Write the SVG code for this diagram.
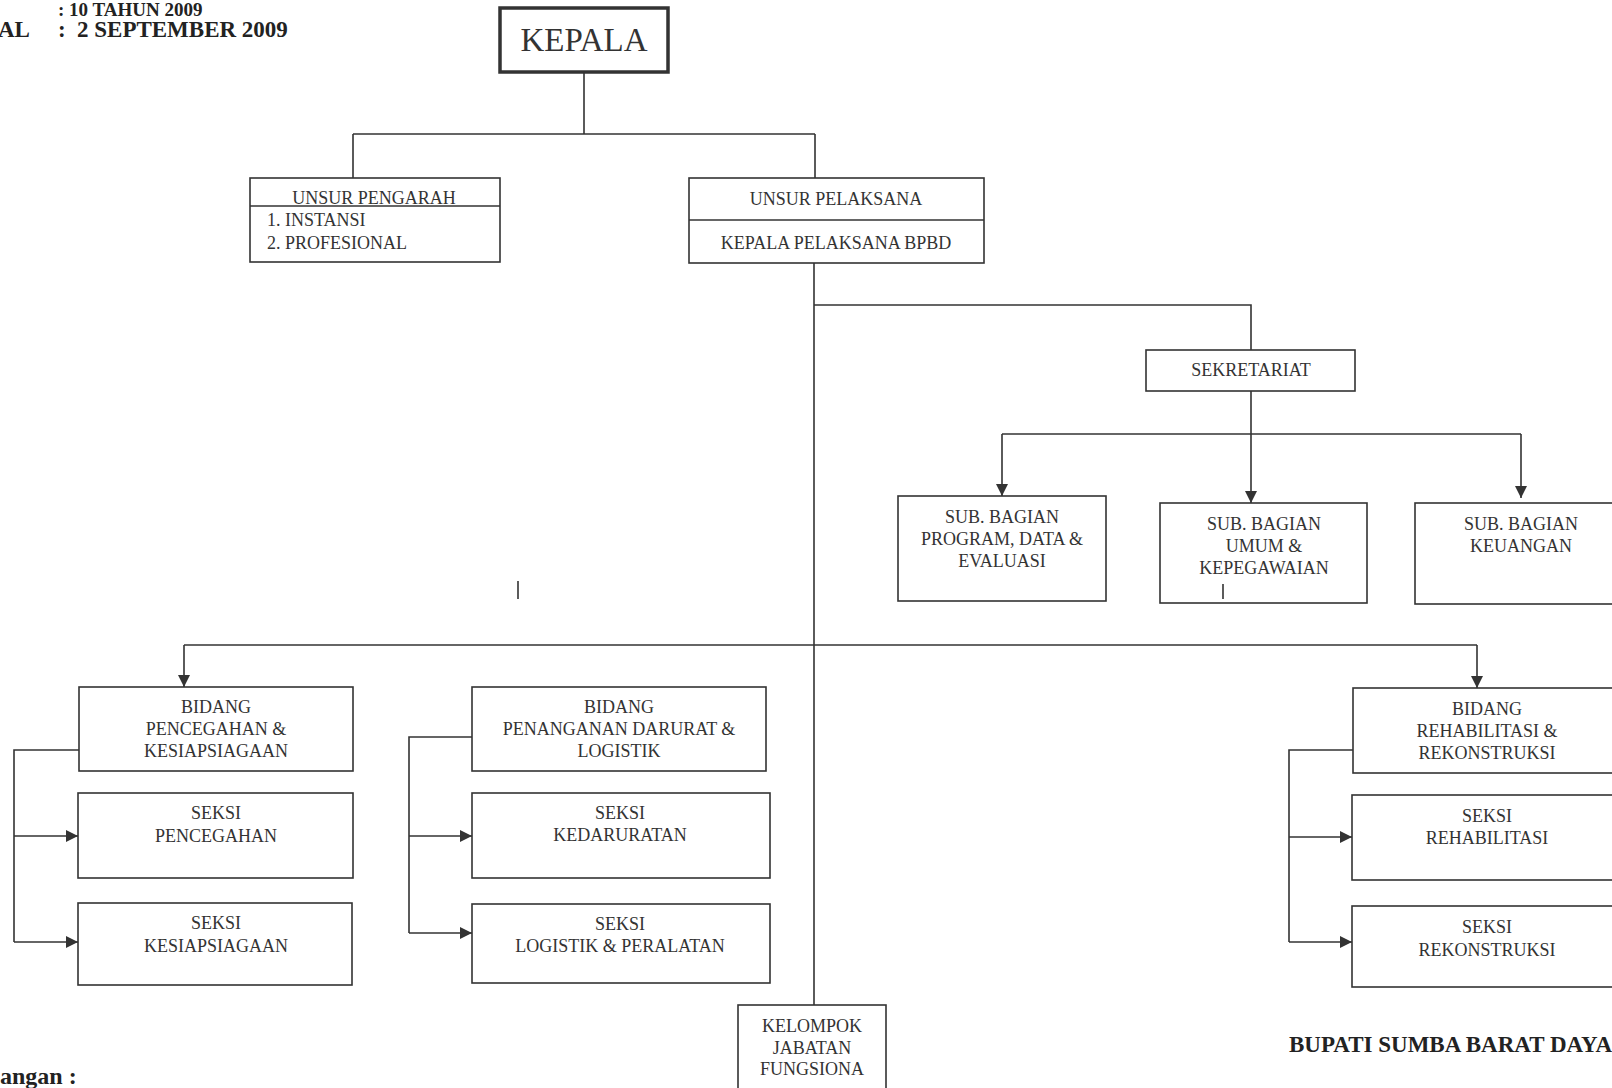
<svg xmlns="http://www.w3.org/2000/svg" width="1612" height="1088" viewBox="0 0 1612 1088">
<style>
.box{fill:#fff;stroke:#333;stroke-width:1.6}
.t{font-family:"Liberation Serif","Times New Roman",serif;font-size:18px;fill:#333;text-anchor:middle}
.tl{font-family:"Liberation Serif","Times New Roman",serif;font-size:18px;fill:#333}
.h{font-family:"Liberation Serif","Times New Roman",serif;font-size:23px;font-weight:bold;fill:#222}
.ln{fill:none;stroke:#333;stroke-width:1.6}
</style>
<defs>
<marker id="ar" markerUnits="userSpaceOnUse" markerWidth="12" markerHeight="12" viewBox="0 0 12 12" refX="12" refY="6" orient="auto">
<path d="M0,0 L12,6 L0,12 z" fill="#333"/>
</marker>
</defs>
<rect width="1612" height="1088" fill="#fff"/>

<g id="header">
<text class="h" x="58" y="16" style="font-size:19px">: 10 TAHUN 2009</text>
<text class="h" x="-2" y="37">AL</text>
<text class="h" x="58" y="37">:</text>
<text class="h" x="77" y="37">2 SEPTEMBER 2009</text>
<text class="h" x="0" y="1084" style="font-size:24px">angan :</text>
<text class="h" x="1289" y="1052" style="font-size:23px">BUPATI SUMBA BARAT DAYA</text>
</g>

<g id="connectors">
<path class="ln" d="M584,73 V134 M353,134 H815 M353,134 V178 M815,134 V178"/>
<path class="ln" d="M814,263 V1005"/>
<path class="ln" d="M814,305 H1251 V350"/>
<path class="ln" d="M1251,391 V503" marker-end="url(#ar)"/>
<path class="ln" d="M1002,434 H1521"/>
<path class="ln" d="M1002,434 V496" marker-end="url(#ar)"/>
<path class="ln" d="M1521,434 V498" marker-end="url(#ar)"/>
<path class="ln" d="M184,645 H1477"/>
<path class="ln" d="M184,645 V687" marker-end="url(#ar)"/>
<path class="ln" d="M1477,645 V688" marker-end="url(#ar)"/>
<path class="ln" d="M79,750 H14 V942"/>
<path class="ln" d="M14,836 H78" marker-end="url(#ar)"/>
<path class="ln" d="M14,942 H78" marker-end="url(#ar)"/>
<path class="ln" d="M472,737 H409 V933"/>
<path class="ln" d="M409,836 H472" marker-end="url(#ar)"/>
<path class="ln" d="M409,933 H472" marker-end="url(#ar)"/>
<path class="ln" d="M1353,750 H1289 V942"/>
<path class="ln" d="M1289,837 H1352" marker-end="url(#ar)"/>
<path class="ln" d="M1289,942 H1352" marker-end="url(#ar)"/>
<path class="ln" d="M518,581 V599"/>
</g>

<g id="kepala">
<rect x="500" y="8" width="168" height="64" fill="#fff" stroke="#333" stroke-width="3.5"/>
<text class="t" x="584" y="51" style="font-size:33px">KEPALA</text>
</g>

<g id="unsur-pengarah">
<rect class="box" x="250" y="178" width="250" height="84"/>
<line class="ln" x1="250" y1="206" x2="500" y2="206"/>
<text class="t" x="374" y="204">UNSUR PENGARAH</text>
<text class="tl" x="267" y="226">1. INSTANSI</text>
<text class="tl" x="267" y="249">2. PROFESIONAL</text>
</g>

<g id="unsur-pelaksana">
<rect class="box" x="689" y="178" width="295" height="85"/>
<line class="ln" x1="689" y1="220" x2="984" y2="220"/>
<text class="t" x="836" y="205">UNSUR PELAKSANA</text>
<text class="t" x="836" y="249">KEPALA PELAKSANA BPBD</text>
</g>

<g id="sekretariat">
<rect class="box" x="1146" y="350" width="209" height="41"/>
<text class="t" x="1251" y="376">SEKRETARIAT</text>
</g>

<g id="sub-program">
<rect class="box" x="898" y="496" width="208" height="105"/>
<text class="t" x="1002" y="523">SUB. BAGIAN</text>
<text class="t" x="1002" y="545">PROGRAM, DATA &amp;</text>
<text class="t" x="1002" y="567">EVALUASI</text>
</g>

<g id="sub-umum">
<rect class="box" x="1160" y="503" width="207" height="100"/>
<text class="t" x="1264" y="530">SUB. BAGIAN</text>
<text class="t" x="1264" y="552">UMUM &amp;</text>
<text class="t" x="1264" y="574">KEPEGAWAIAN</text>
<line class="ln" x1="1223" y1="584" x2="1223" y2="599"/>
</g>

<g id="sub-keuangan">
<rect class="box" x="1415" y="503" width="210" height="101"/>
<text class="t" x="1521" y="530">SUB. BAGIAN</text>
<text class="t" x="1521" y="552">KEUANGAN</text>
</g>

<g id="bidang-pencegahan">
<rect class="box" x="79" y="687" width="274" height="84"/>
<text class="t" x="216" y="713">BIDANG</text>
<text class="t" x="216" y="735">PENCEGAHAN &amp;</text>
<text class="t" x="216" y="757">KESIAPSIAGAAN</text>
</g>
<g id="seksi-pencegahan">
<rect class="box" x="78" y="793" width="275" height="85"/>
<text class="t" x="216" y="819">SEKSI</text>
<text class="t" x="216" y="842">PENCEGAHAN</text>
</g>
<g id="seksi-kesiapsiagaan">
<rect class="box" x="78" y="903" width="274" height="82"/>
<text class="t" x="216" y="929">SEKSI</text>
<text class="t" x="216" y="952">KESIAPSIAGAAN</text>
</g>

<g id="bidang-penanganan">
<rect class="box" x="472" y="687" width="294" height="84"/>
<text class="t" x="619" y="713">BIDANG</text>
<text class="t" x="619" y="735">PENANGANAN DARURAT &amp;</text>
<text class="t" x="619" y="757">LOGISTIK</text>
</g>
<g id="seksi-kedaruratan">
<rect class="box" x="472" y="793" width="298" height="85"/>
<text class="t" x="620" y="819">SEKSI</text>
<text class="t" x="620" y="841">KEDARURATAN</text>
</g>
<g id="seksi-logistik">
<rect class="box" x="472" y="904" width="298" height="79"/>
<text class="t" x="620" y="930">SEKSI</text>
<text class="t" x="620" y="952">LOGISTIK &amp; PERALATAN</text>
</g>

<g id="bidang-rehabilitasi">
<rect class="box" x="1353" y="688" width="270" height="85"/>
<text class="t" x="1487" y="715">BIDANG</text>
<text class="t" x="1487" y="737">REHABILITASI &amp;</text>
<text class="t" x="1487" y="759">REKONSTRUKSI</text>
</g>
<g id="seksi-rehabilitasi">
<rect class="box" x="1352" y="795" width="271" height="85"/>
<text class="t" x="1487" y="822">SEKSI</text>
<text class="t" x="1487" y="844">REHABILITASI</text>
</g>
<g id="seksi-rekonstruksi">
<rect class="box" x="1352" y="906" width="271" height="81"/>
<text class="t" x="1487" y="933">SEKSI</text>
<text class="t" x="1487" y="956">REKONSTRUKSI</text>
</g>

<g id="kelompok">
<rect class="box" x="738" y="1005" width="148" height="90"/>
<text class="t" x="812" y="1032">KELOMPOK</text>
<text class="t" x="812" y="1054">JABATAN</text>
<text class="t" x="812" y="1075">FUNGSIONA</text>
</g>
</svg>
